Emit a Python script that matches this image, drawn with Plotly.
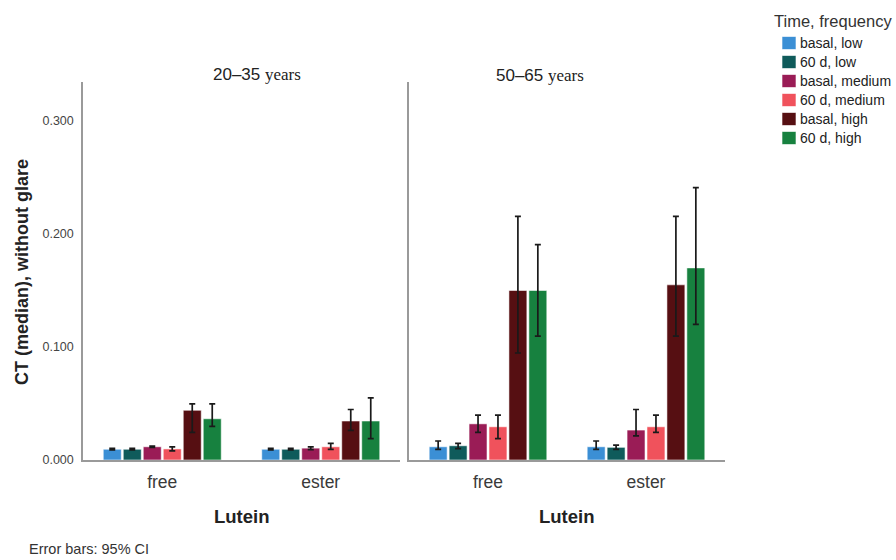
import plotly.graph_objects as go

# Categories and series
lutein = ["free", "ester"]
series = ["basal, low", "60 d, low", "basal, medium", "60 d, medium", "basal, high", "60 d, high"]
colors = ["#3b8fd5", "#0f5b5b", "#9a1c56", "#f0525c", "#560f12", "#17813f"]

# Median CT (without glare) per series, [free, ester]
young_vals = [
    [0.0095, 0.0095],
    [0.0095, 0.0095],
    [0.0117, 0.0105],
    [0.0098, 0.0117],
    [0.0440, 0.0345],
    [0.0365, 0.0345],
]
young_hi = [
    [0.0102, 0.0102],
    [0.0102, 0.0102],
    [0.0122, 0.0117],
    [0.0117, 0.0147],
    [0.0497, 0.0447],
    [0.0497, 0.0550],
]
young_lo = [
    [0.0090, 0.0090],
    [0.0090, 0.0090],
    [0.0112, 0.0092],
    [0.0080, 0.0094],
    [0.0244, 0.0262],
    [0.0297, 0.0190],
]

old_vals = [
    [0.0117, 0.0117],
    [0.0126, 0.0112],
    [0.0320, 0.0265],
    [0.0294, 0.0294],
    [0.1500, 0.1550],
    [0.1500, 0.1700],
]
old_hi = [
    [0.0168, 0.0168],
    [0.0147, 0.0132],
    [0.0397, 0.0447],
    [0.0397, 0.0397],
    [0.2156, 0.2156],
    [0.1906, 0.2410],
]
old_lo = [
    [0.0094, 0.0094],
    [0.0100, 0.0094],
    [0.0244, 0.0214],
    [0.0190, 0.0244],
    [0.0947, 0.1097],
    [0.1097, 0.1200],
]

y_ticks = [0.0, 0.1, 0.2, 0.3]
y_tick_text = ["0.000", "0.100", "0.200", "0.300"]

W, H = 896, 560
SANS = "Liberation Sans, Arial, sans-serif"
SERIF = "Liberation Serif, serif"

fig = go.Figure()

panels = [("x", "y", young_vals, young_hi, young_lo),
          ("x2", "y2", old_vals, old_hi, old_lo)]
for xa, ya, vals, hi, lo in panels:
    for i, name in enumerate(series):
        fig.add_trace(go.Bar(
            x=lutein, y=vals[i], name=name, xaxis=xa, yaxis=ya,
            marker=dict(color=colors[i], line=dict(color="rgba(255,255,255,0.55)", width=1)),
            error_y=dict(type="data", symmetric=False,
                         array=[h - v for h, v in zip(hi[i], vals[i])],
                         arrayminus=[v - l for v, l in zip(vals[i], lo[i])],
                         color="#1a1a1a", thickness=1.7, width=3),
            showlegend=False,
        ))

ytop = 0.3345
y_dom = [(H - 460) / H, (H - 82) / H]
axis_line = dict(showline=True, linecolor="#9a9a9a", linewidth=1.5, showgrid=False,
                 zeroline=False, ticks="")
xtick_font = dict(size=17.5, color="#3a3a3a")

fig.update_layout(
    width=W, height=H,
    margin=dict(l=0, r=0, t=0, b=0, autoexpand=False),
    paper_bgcolor="white", plot_bgcolor="white",
    barmode="group", bargap=0.243, bargroupgap=0.1,
    font=dict(family=SANS, color="#222"),
    xaxis=dict(domain=[83 / W, 400 / W], anchor="y", tickfont=xtick_font,
               ticklabelstandoff=5, **axis_line),
    xaxis2=dict(domain=[409 / W, 725 / W], anchor="y2", tickfont=xtick_font,
                ticklabelstandoff=5, **axis_line),
    yaxis=dict(domain=y_dom, range=[0, ytop], anchor="x", tickvals=y_ticks,
               ticktext=y_tick_text, tickfont=dict(size=12.5, color="#444"),
               ticklabelstandoff=5, **axis_line),
    yaxis2=dict(domain=y_dom, range=[0, ytop], anchor="x2", showticklabels=False,
                tickvals=y_ticks, **axis_line),
    showlegend=False,
)

# Legend: title, colour swatches and labels
fig.add_annotation(text="Time, frequency", x=772 / W, y=1 - 21 / H, xanchor="left",
                   font=dict(size=16.5, color="#333"))
row_y = [43, 62, 81, 100, 119, 138]
for name, col, ry in zip(series, colors, row_y):
    fig.add_shape(type="rect", xref="paper", yref="paper",
                  x0=782 / W, x1=796 / W, y0=1 - (ry + 6.5) / H, y1=1 - (ry - 6.5) / H,
                  fillcolor=col, line=dict(color="rgba(255,255,255,0.6)", width=1))
    fig.add_annotation(text=name, x=798 / W, y=1 - ry / H, xanchor="left",
                       font=dict(size=14, color="#222"))

annotations = [
    dict(text=f"20–35 <span style='font-family:{SERIF}'>years</span>",
         x=257 / W, y=1 - 75 / H, font=dict(size=17, color="#222")),
    dict(text=f"50–65 <span style='font-family:{SERIF}'>years</span>",
         x=540 / W, y=1 - 76 / H, font=dict(size=17, color="#222")),
    dict(text="<b>Lutein</b>", x=241.5 / W, y=1 - 516 / H, font=dict(size=18.5, color="#222")),
    dict(text="<b>Lutein</b>", x=567 / W, y=1 - 516 / H, font=dict(size=18.5, color="#222")),
    dict(text="<b>CT (median), without glare</b>", x=22 / W, y=1 - 272 / H, textangle=-90,
         font=dict(size=18, color="#222")),
    dict(text="Error bars: 95% CI", x=27 / W, y=1 - 549 / H, xanchor="left",
         font=dict(size=14.5, color="#333")),
]
for a in annotations:
    a.setdefault("xanchor", "center")
    fig.add_annotation(**a)

fig.update_annotations(xref="paper", yref="paper", yanchor="middle", showarrow=False)

fig.write_html("out.html")
